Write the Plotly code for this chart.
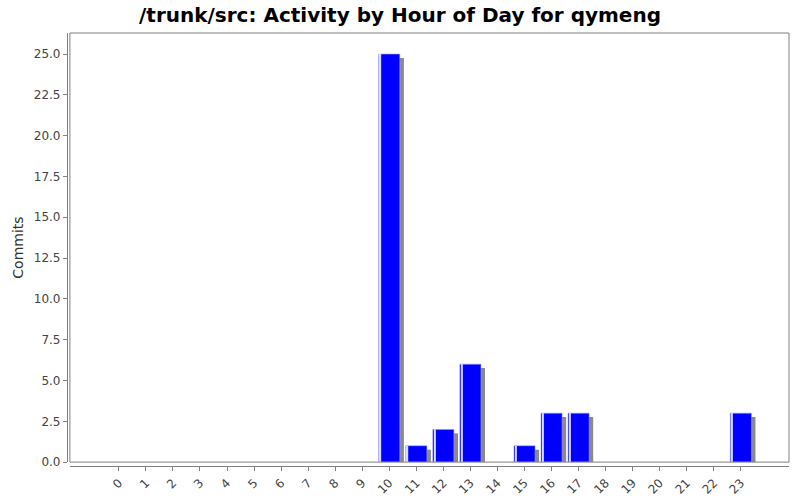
import numpy as np
import plotly.graph_objects as go

hours = list(range(24))
hour_labels = [str(h) for h in hours]
commits = [0, 0, 0, 0, 0, 0, 0, 0, 0, 0, 25, 1, 2, 6, 0, 1, 3, 3, 0, 0, 0, 0, 0, 3]
y_ticks = [0, 2.5, 5, 7.5, 10, 12.5, 15, 17.5, 20, 22.5, 25]

bar_w = 0.78
shadow_dx = 0.15
shadow_dy = 0.24

vals = np.array(commits, dtype=float)
bars = [v if v > 0 else None for v in vals]
shadow = [v - shadow_dy if v > 0 else None for v in vals]

fig = go.Figure()

# drop shadow
fig.add_trace(go.Bar(x=hours, y=shadow, width=bar_w, offset=-bar_w / 2 + shadow_dx,
                     marker=dict(color="#8a8a8a", line=dict(width=0)),
                     hoverinfo="skip", showlegend=False))
# main bars
fig.add_trace(go.Bar(x=hours, y=bars, width=bar_w, offset=-bar_w / 2,
                     marker=dict(color="#0000ff", line=dict(color="#9a9aff", width=0.6)),
                     showlegend=False))
# highlight stripe near left edge
fig.add_trace(go.Bar(x=hours, y=bars, width=0.05, offset=-bar_w / 2 + 0.04,
                     marker=dict(color="#ffffff", opacity=0.85, line=dict(width=0)),
                     hoverinfo="skip", showlegend=False))

fig.update_layout(
    width=800, height=500,
    barmode="overlay",
    plot_bgcolor="white", paper_bgcolor="white",
    margin=dict(l=67, r=11, t=33, b=34),
    font=dict(family="DejaVu Sans", size=12, color="#444444"),
    title=dict(text="<b>/trunk/src: Activity by Hour of Day for qymeng</b>",
               x=0.5, xanchor="center", y=0.97, yanchor="middle",
               font=dict(family="DejaVu Sans", size=20, color="black")),
    xaxis=dict(domain=[0.004, 1], anchor="free", position=0, automargin=False,
               range=[-1.81, 24.78], tickmode="array", tickvals=hours, ticktext=hour_labels,
               tickangle=-45, ticks="outside", ticklen=4, tickcolor="#808080",
               showline=True, linecolor="#808080", linewidth=1.2,
               showgrid=False, zeroline=False, fixedrange=True),
    yaxis=dict(domain=[0.009, 1], anchor="free", position=0, automargin=False,
               range=[0, 26.29], tickmode="array", tickvals=y_ticks,
               ticktext=[f"{v:.1f}" for v in y_ticks],
               ticks="outside", ticklen=4, tickcolor="#808080",
               showline=True, linecolor="#808080", linewidth=1.2,
               showgrid=False, zeroline=False,
               title=dict(text="Commits", font=dict(size=14, color="#333333"), standoff=5)),
    shapes=[dict(type="rect", xref="paper", yref="paper",
                 x0=0.004, x1=1, y0=0.009, y1=1,
                 line=dict(color="#808080", width=1), layer="above")],
)

# page body margin would shift the 800x500 figure off the window
fig.write_html("out.html", config={"displayModeBar": False},
               post_script="document.body.style.margin='0';")
